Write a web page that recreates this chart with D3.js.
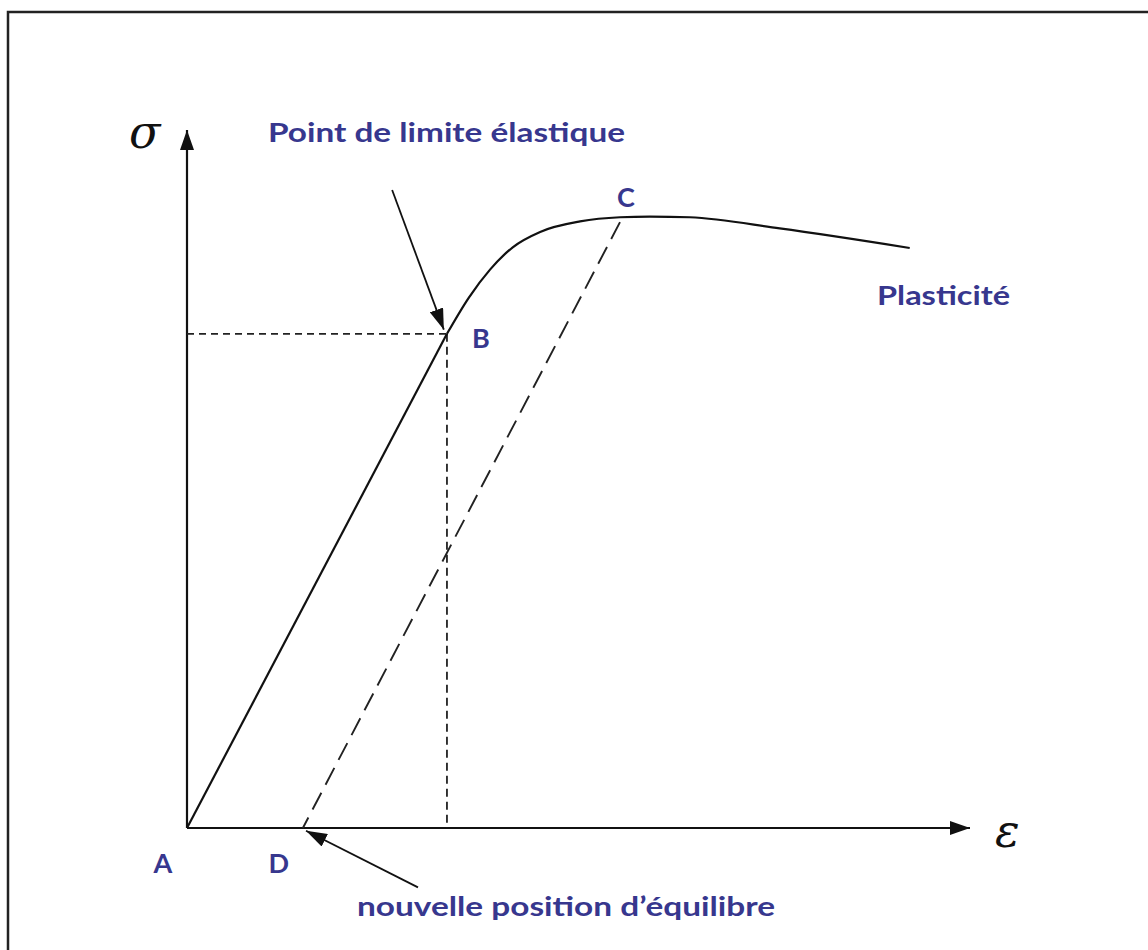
<!DOCTYPE html>
<html>
<head>
<meta charset="utf-8">
<script src="https://cdn.jsdelivr.net/npm/d3@7"></script>
<style>
  body { margin: 0; background: #fff; }
  svg { display: block; }
</style>
</head>
<body>
<svg width="1148" height="950"></svg>
<script>
// stress-strain curve, arbitrary units (x: strain, y: stress)
// first segment (A -> B) is the straight elastic part
var elasticStrain = [0, 33.2];
var elasticStress = [0, 70.8];
// plastic part from B onwards
var plasticStrain = [33.2, 36.0, 38.7, 41.6, 45.1, 50.2, 55.3, 59.1, 64.2, 75.7, 92.3];
var plasticStress = [70.8, 76.0, 80.0, 83.2, 85.4, 86.9, 87.5, 87.6, 87.5, 85.9, 83.1];

// named points A, B, C, D
var pointNames = ["A", "B", "C", "D"];
var pointStrain = [0, 33.2, 55.3, 14.8];
var pointStress = [0, 70.8, 86.8, 0];

// annotation arrows: from (x0,y0) to (x1,y1)
var arrowStrain0 = [26.2, 29.5];
var arrowStress0 = [91.4, -8.5];
var arrowStrain1 = [32.8, 15.2];
var arrowStress1 = [71.4, -0.4];

var svg = d3.select("svg"),
  margin = { top: 130, right: 178, bottom: 122, left: 187 },
  width = +svg.attr("width") - margin.left - margin.right,
  height = +svg.attr("height") - margin.top - margin.bottom;

var x = d3.scaleLinear().domain([0, 100]).range([margin.left, margin.left + width]);
var y = d3.scaleLinear().domain([0, 100]).range([margin.top + height, margin.top]);

var ink = "#111";
var blue = "#37378e";
var labelFont = "Lato, 'Open Sans', sans-serif";

// frame (top and left edges visible)
svg.append("path")
  .attr("d", "M8,950 L8,12 L1148,12")
  .attr("fill", "none")
  .attr("stroke", "#222")
  .attr("stroke-width", 2.5);

var defs = svg.append("defs");
function marker(id, w, l) {
  defs.append("marker")
    .attr("id", id)
    .attr("markerUnits", "userSpaceOnUse")
    .attr("viewBox", "0 0 " + l + " " + w)
    .attr("refX", l)
    .attr("refY", w / 2)
    .attr("markerWidth", l)
    .attr("markerHeight", w)
    .attr("orient", "auto")
    .append("path")
    .attr("d", "M0,0 L" + l + "," + w / 2 + " L0," + w + " Z")
    .attr("fill", ink);
}
marker("axisHead", 14, 20);
marker("noteHead", 14, 21);

// axes
svg.append("line")
  .attr("x1", x(0)).attr("y1", y(0))
  .attr("x2", x(0)).attr("y2", y(100))
  .attr("stroke", ink).attr("stroke-width", 2.2)
  .attr("marker-end", "url(#axisHead)");
svg.append("line")
  .attr("x1", x(0)).attr("y1", y(0))
  .attr("x2", x(100)).attr("y2", y(0))
  .attr("stroke", ink).attr("stroke-width", 2.2)
  .attr("marker-end", "url(#axisHead)");

// guide lines through B
var B = 1, C = 2, D = 3;
svg.append("line")
  .attr("x1", x(0)).attr("y1", y(pointStress[B]))
  .attr("x2", x(pointStrain[B])).attr("y2", y(pointStress[B]))
  .attr("stroke", "#222").attr("stroke-width", 1.8)
  .attr("stroke-dasharray", "7,5");
svg.append("line")
  .attr("x1", x(pointStrain[B])).attr("y1", y(pointStress[B]))
  .attr("x2", x(pointStrain[B])).attr("y2", y(0))
  .attr("stroke", "#222").attr("stroke-width", 1.8)
  .attr("stroke-dasharray", "8,5");

// unloading line C -> D
svg.append("line")
  .attr("x1", x(pointStrain[C])).attr("y1", y(pointStress[C]))
  .attr("x2", x(pointStrain[D])).attr("y2", y(pointStress[D]))
  .attr("stroke", "#222").attr("stroke-width", 1.9)
  .attr("stroke-dasharray", "19,9");

// curve: straight elastic part + smooth plastic part
svg.append("path")
  .datum(elasticStrain)
  .attr("d", d3.line()
    .x(function(d, i) { return x(elasticStrain[i]); })
    .y(function(d, i) { return y(elasticStress[i]); }))
  .attr("fill", "none")
  .attr("stroke", ink)
  .attr("stroke-width", 2.2);
svg.append("path")
  .datum(plasticStrain)
  .attr("d", d3.line()
    .x(function(d, i) { return x(plasticStrain[i]); })
    .y(function(d, i) { return y(plasticStress[i]); })
    .curve(d3.curveMonotoneX))
  .attr("fill", "none")
  .attr("stroke", ink)
  .attr("stroke-width", 2.2);

// annotation arrows
svg.selectAll(".note")
  .data(arrowStrain0)
  .enter()
  .append("line")
  .attr("class", "note")
  .attr("x1", function(d, i) { return x(arrowStrain0[i]); })
  .attr("y1", function(d, i) { return y(arrowStress0[i]); })
  .attr("x2", function(d, i) { return x(arrowStrain1[i]); })
  .attr("y2", function(d, i) { return y(arrowStress1[i]); })
  .attr("stroke", ink)
  .attr("stroke-width", 1.8)
  .attr("marker-end", "url(#noteHead)");

// point letters
var labelDx = [-24, 34, 6, -24];
var labelDy = [45, 14, -15, 45];
svg.selectAll(".pt")
  .data(pointNames)
  .enter()
  .append("text")
  .attr("class", "pt")
  .attr("x", function(d, i) { return x(pointStrain[i]) + labelDx[i]; })
  .attr("y", function(d, i) { return y(pointStress[i]) + labelDy[i]; })
  .attr("text-anchor", "middle")
  .attr("font-family", labelFont)
  .attr("font-weight", "bold")
  .attr("font-size", 27)
  .attr("fill", blue)
  .text(function(d) { return d; });

// text notes
var notes = [
  { t: "Point de limite élastique", x: 268, y: 142, w: 357 },
  { t: "Plasticité", x: 877, y: 305, w: 133 },
  { t: "nouvelle position d\u2019équilibre", x: 357, y: 916, w: 418 }
];
svg.selectAll(".txt")
  .data(notes)
  .enter()
  .append("text")
  .attr("class", "txt")
  .attr("x", function(d) { return d.x; })
  .attr("y", function(d) { return d.y; })
  .attr("font-family", labelFont)
  .attr("font-weight", "bold")
  .attr("font-size", 27)
  .attr("fill", blue)
  .attr("textLength", function(d) { return d.w; })
  .attr("lengthAdjust", "spacingAndGlyphs")
  .text(function(d) { return d.t; });

// axis symbols
svg.append("text")
  .attr("x", 129).attr("y", 148)
  .attr("font-family", "DejaVu Serif, serif")
  .attr("font-style", "italic")
  .attr("font-size", 46)
  .attr("fill", ink)
  .text("σ");
svg.append("text")
  .attr("x", 995).attr("y", 847)
  .attr("font-family", "DejaVu Serif, serif")
  .attr("font-style", "italic")
  .attr("font-size", 46)
  .attr("fill", ink)
  .text("ε");
</script>
</body>
</html>
